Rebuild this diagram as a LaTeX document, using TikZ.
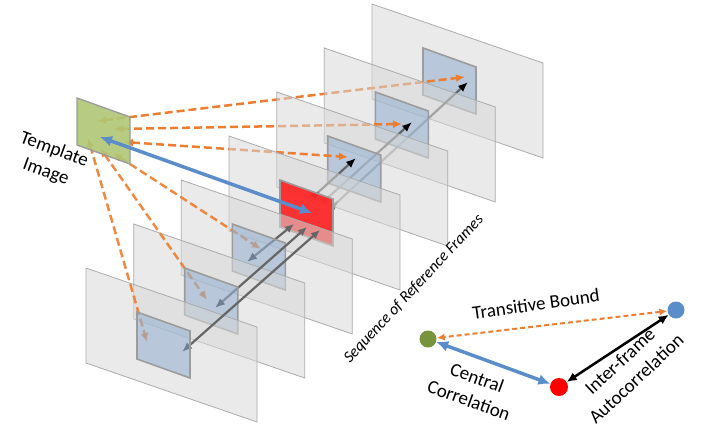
\documentclass[tikz,border=0pt]{standalone}
\usepackage{fontspec}
\setmainfont{Carlito}
\usetikzlibrary{arrows.meta}
\definecolor{orng}{HTML}{ED7D31}
\definecolor{bluA}{HTML}{5B8DCB}
\definecolor{grnD}{HTML}{77933C}
\definecolor{tmpl}{HTML}{AFC774}
\definecolor{ptch}{HTML}{97B2D1}
\definecolor{frm}{HTML}{D8D8D8}
\definecolor{frmedge}{HTML}{ABABAB}
\definecolor{ptedge}{HTML}{9C9C9C}
\definecolor{arrgray}{HTML}{666666}
\definecolor{redp}{HTML}{FF1E1E}
\newcommand\drawframe[1]{\path[frameshape] (F#1) -- ++(171,59) -- ++(0,95) -- ++(-171,-59) -- cycle;}
\newcommand\drawpatch[2][patchshape]{\path[#1] (P#2) -- ++(53,19) -- ++(0,47) -- ++(-53,-19) -- cycle;}
\begin{document}
\begin{tikzpicture}[x=1pt,y=-1pt,
  frameshape/.style={fill=frm, fill opacity=0.55, draw=frmedge, line width=0.8pt},
  patchshape/.style={fill=ptch, fill opacity=0.6, draw=ptedge, line width=1.6pt},
  redshape/.style={fill=redp, fill opacity=0.9, draw=ptedge, line width=1.6pt},
  tmplshape/.style={fill=tmpl, fill opacity=0.9, draw=ptedge, line width=1.4pt},
  orangearr/.style={draw=orng, line width=2.5pt, dash pattern=on 8pt off 4pt,
    arrows={Latex[length=9pt,width=8pt]-Latex[length=9pt,width=8pt]}},
  orangelow/.style={orangearr, draw opacity=0.9},
  uparr/.style={draw=arrgray, line width=2.2pt,
    arrows={Latex[reversed,length=9pt,width=8pt,color=black]-Latex[length=10pt,width=8pt,color=black]}},
  downarr/.style={draw=arrgray, line width=2.2pt,
    arrows={Latex[length=10pt,width=8pt,color=black!80]-Latex[length=9pt,width=8pt,color=arrgray]}},
  bluearr/.style={draw=bluA, line width=3.5pt,
    arrows={Latex[length=12pt,width=11pt]-Latex[length=12pt,width=11pt]}},
  legorange/.style={draw=orng, line width=2pt, dash pattern=on 5pt off 3pt,
    arrows={Latex[length=8pt,width=7pt]-Latex[length=8pt,width=7pt]}},
  legblack/.style={draw=black, line width=2.5pt,
    arrows={Latex[length=10pt,width=9pt]-Latex[length=10pt,width=9pt]}},
  dot/.style={circle, inner sep=0pt, minimum size=17pt},
  lbl/.style={font=\fontsize{19}{24}\selectfont, text=black, inner sep=0pt, align=center}
]
\useasboundingbox (0,0) rectangle (707,429);
\foreach \k/\x/\y in {1/372/4, 2/324.3/48, 3/276.7/92, 4/229/136, 5/181.3/180, 6/133.7/224, 7/86/268}{
  \coordinate (F\k) at (\x,\y);
  \coordinate (P\k) at (\x+51,\y+44);
}
\coordinate (T) at (77,98);
% template-side end points
\coordinate (ta1) at (97,121);
\coordinate (ta2) at (114,129);
\coordinate (ta3) at (124,142);
\coordinate (ta5) at (113,153);
\coordinate (ta6) at (100,148);
\coordinate (ta7) at (88,138);
\coordinate (tb) at (100,137);
% patch-side end points
\coordinate (oh1) at (465,77);
\coordinate (oh2) at (402,124);
\coordinate (oh3) at (348,157);
\coordinate (oh5) at (261,249);
\coordinate (oh6) at (207,300);
\coordinate (oh7) at (147,342);
\coordinate (us1) at (332,207);
\coordinate (us2) at (323,202);
\coordinate (us3) at (313,197);
\coordinate (ue1) at (468,82);
\coordinate (ue2) at (412,122);
\coordinate (ue3) at (356,158);
\coordinate (dl1) at (182,352);
\coordinate (dl2) at (215,308);
\coordinate (dl3) at (247,262);
\coordinate (dr1) at (320,230);
\coordinate (dr2) at (307,227);
\coordinate (dr3) at (294,224);
\coordinate (rb) at (312,213);

% back frames with their arrows
\drawframe{1} \drawpatch{1}
\draw[orangearr] (ta1) -- (oh1);
\draw[uparr] (us1) -- (ue1);
\drawframe{2} \drawpatch{2}
\draw[orangearr] (ta2) -- (oh2);
\draw[uparr] (us2) -- (ue2);
\drawframe{3} \drawpatch{3}
\draw[orangearr] (ta3) -- (oh3);
\draw[uparr] (us3) -- (ue3);
% central frame
\drawframe{4} \drawpatch[redshape]{4}
% front frames
\drawframe{5}
\draw[downarr] (dl3) -- (dr3);
\draw[orangelow] (ta5) -- (oh5);
\drawpatch{5}
\drawframe{6}
\draw[downarr] (dl2) -- (dr2);
\draw[orangelow] (ta6) -- (oh6);
\drawpatch{6}
\drawframe{7}
\draw[downarr] (dl1) -- (dr1);
\draw[orangelow] (ta7) -- (oh7);
\drawpatch{7}
% template image
\path[tmplshape] (T) -- ++(53,19) -- ++(0,47) -- ++(-53,-19) -- cycle;
\draw[bluearr] (tb) -- (rb);

% labels
\node[lbl, rotate=-20] (tmpltxt) at (50,161) {Template\\Image};
\node[inner sep=0pt, rotate=47, font=\fontsize{16}{19}\selectfont\itshape] (seqtxt) at (414,289) {Sequence of Reference Frames};

% legend
\node[dot, fill=bluA] (bdot) at (676,310) {};
\node[dot, fill=grnD] (gdot) at (428,339) {};
\node[dot, fill=red, minimum size=18pt] (rdot) at (559,387) {};
\draw[legorange] (bdot) -- (gdot);
\draw[bluearr] (gdot) -- (rdot);
\draw[legblack] (rdot) -- (bdot);
\node[lbl, rotate=8] (tbtxt) at (536,304) {Transitive Bound};
\node[lbl, rotate=-20] (cctxt) at (473,389) {Central\\Correlation};
\node[lbl, rotate=43] (iatxt) at (628,370) {Inter-frame\\Autocorrelation};
\end{tikzpicture}
\end{document}
